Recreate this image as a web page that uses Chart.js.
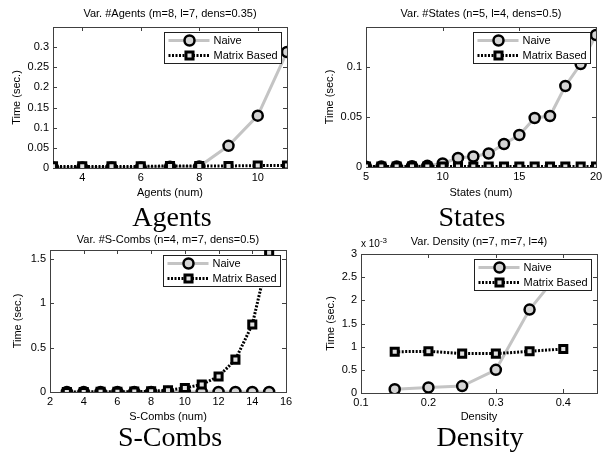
<!DOCTYPE html>
<html>
<head>
<meta charset="utf-8">
<script src="https://cdn.jsdelivr.net/npm/chart.js@4.4.0/dist/chart.umd.min.js"></script>
<style>
body { margin: 0; background: #fff; }
#pagina { position: relative; width: 606px; height: 455px; overflow: hidden; }
.painel { position: absolute; }
.legenda_fig { position: absolute; width: 200px; text-align: center; font-family: 'Liberation Serif', serif; font-size: 28px; line-height: 28px; color: #000; }
.expoente { position: absolute; font-family: 'Liberation Sans', Arial, sans-serif; font-size: 10px; line-height: 10px; color: #000; white-space: nowrap; }
.expoente sup { font-size: 8px; position: relative; top: -4px; vertical-align: baseline; }
</style>
</head>
<body>
<div id="pagina">
  <canvas class="painel" id="grafico_agents" width="303" height="205" style="left:0;top:0"></canvas>
  <canvas class="painel" id="grafico_states" width="303" height="205" style="left:303px;top:0"></canvas>
  <canvas class="painel" id="grafico_scombs" width="303" height="200" style="left:0;top:228px"></canvas>
  <canvas class="painel" id="grafico_density" width="303" height="200" style="left:303px;top:228px"></canvas>
  <div class="legenda_fig" style="left:72px;top:203px">Agents</div>
  <div class="legenda_fig" style="left:372px;top:203px">States</div>
  <div class="legenda_fig" style="left:70px;top:423px">S-Combs</div>
  <div class="legenda_fig" style="left:380px;top:423px">Density</div>
  <div class="expoente" style="left:361px;top:239px">x 10<sup>-3</sup></div>
</div>
<script>
Chart.defaults.font.family = "'Liberation Sans', Arial, sans-serif";
Chart.defaults.font.size = 11;
Chart.defaults.color = '#000';
Chart.defaults.animation = false;

/* DADOS */

const agents_x = [3, 4, 5, 6, 7, 8, 9, 10, 11];
const agents_naive = [0.001, 0.001, 0.001, 0.001, 0.003, 0.004, 0.055, 0.13, 0.288];
const agents_matrix = [0.004, 0.004, 0.004, 0.004, 0.005, 0.005, 0.005, 0.006, 0.006];
const agents_ticks_x = [4, 6, 8, 10];
const agents_ticks_y = [0, 0.05, 0.1, 0.15, 0.2, 0.25, 0.3];

const states_x = [5, 6, 7, 8, 9, 10, 11, 12, 13, 14, 15, 16, 17, 18, 19, 20];
const states_naive = [0.0003, 0.0004, 0.0005, 0.0008, 0.0012, 0.0035, 0.009, 0.0105, 0.0135, 0.023, 0.032, 0.049, 0.051, 0.081, 0.103, 0.132];
const states_matrix = [0.0004, 0.0004, 0.0004, 0.0004, 0.0004, 0.0004, 0.0004, 0.0004, 0.0004, 0.0004, 0.0004, 0.0004, 0.0004, 0.0004, 0.0004, 0.0004];
const states_ticks_x = [5, 10, 15, 20];
const states_ticks_y = [0, 0.05, 0.1];

const scombs_x = [3, 4, 5, 6, 7, 8, 9, 10, 11, 12, 13, 14, 15];
const scombs_naive = [0.001, 0.001, 0.001, 0.001, 0.001, 0.001, 0.001, 0.001, 0.001, 0.001, 0.001, 0.001, 0.001];
const scombs_matrix = [0.001, 0.001, 0.002, 0.003, 0.004, 0.008, 0.02, 0.045, 0.085, 0.175, 0.365, 0.76, 1.57];
const scombs_ticks_x = [2, 4, 6, 8, 10, 12, 14, 16];
const scombs_ticks_y = [0, 0.5, 1, 1.5];

// density em unidades de 10^-3 seg
const density_x = [0.15, 0.2, 0.25, 0.3, 0.35, 0.4];
const density_naive = [0.08, 0.12, 0.15, 0.5, 1.8, 2.7];
const density_matrix = [0.89, 0.9, 0.85, 0.85, 0.9, 0.95];
const density_ticks_x = [0.1, 0.2, 0.3, 0.4];
const density_ticks_y = [0, 0.5, 1, 1.5, 2, 2.5, 3];

/* ESTILO DAS SERIES */

const estilo_naive = {
    label: 'Naive',
    borderColor: '#c4c4c4',
    borderWidth: 3,
    pointStyle: 'circle',
    pointRadius: 5,
    pointBorderWidth: 2.5,
    pointBorderColor: '#000',
    pointBackgroundColor: '#d4d4d4',
    order: 2
};

const estilo_matrix = {
    label: 'Matrix Based',
    borderColor: '#000',
    borderWidth: 3,
    borderDash: [2, 1.5],
    pointStyle: 'rect',
    pointRadius: 5,
    pointBorderWidth: 3,
    pointBorderColor: '#000',
    pointBackgroundColor: '#e0e0e0',
    order: 1
};

function pares(xs, ys) {
    return xs.map((x, i) => ({ x: x, y: ys[i] }));
}

/* PLUGINS: caixa com ticks para dentro e legenda dentro do grafico */

const caixa = {
    id: 'caixa',
    beforeDatasetsDraw(chart) {
        const { ctx, chartArea: a, scales: { x, y } } = chart;
        ctx.save();
        ctx.strokeStyle = '#404040';
        ctx.lineWidth = 1;
        ctx.beginPath();
        x.ticks.forEach(t => {
            const px = Math.round(x.getPixelForValue(t.value)) + 0.5;
            ctx.moveTo(px, a.bottom); ctx.lineTo(px, a.bottom - 4);
            ctx.moveTo(px, a.top); ctx.lineTo(px, a.top + 4);
        });
        y.ticks.forEach(t => {
            const py = Math.round(y.getPixelForValue(t.value)) + 0.5;
            ctx.moveTo(a.left, py); ctx.lineTo(a.left + 4, py);
            ctx.moveTo(a.right, py); ctx.lineTo(a.right - 4, py);
        });
        ctx.stroke();
        ctx.strokeRect(Math.round(a.left) + 0.5, Math.round(a.top) + 0.5, Math.round(a.width), Math.round(a.height));
        ctx.restore();
    }
};

function marcador(ctx, ds, cx, cy) {
    ctx.fillStyle = ds.pointBackgroundColor;
    ctx.strokeStyle = ds.pointBorderColor;
    ctx.lineWidth = ds.pointBorderWidth;
    ctx.setLineDash([]);
    ctx.beginPath();
    if (ds.pointStyle === 'rect') {
        const s = ds.pointRadius * Math.SQRT1_2;
        ctx.rect(cx - s, cy - s, 2 * s, 2 * s);
    } else {
        ctx.arc(cx, cy, ds.pointRadius, 0, Math.PI * 2);
    }
    ctx.fill();
    ctx.stroke();
}

const legenda_interna = {
    id: 'legenda_interna',
    afterDraw(chart) {
        const { ctx, chartArea: a } = chart;
        const largura = 117, altura = 31;
        const x0 = Math.round(a.right - 6 - largura) + 0.5;
        const y0 = Math.round(a.top + 5) + 0.5;
        ctx.save();
        ctx.fillStyle = '#fff';
        ctx.fillRect(x0, y0, largura, altura);
        ctx.strokeStyle = '#202020';
        ctx.lineWidth = 1;
        ctx.strokeRect(x0, y0, largura, altura);
        const series = [estilo_naive, estilo_matrix];
        series.forEach((ds, i) => {
            const yc = y0 + 8 + i * 15;
            ctx.strokeStyle = ds.borderColor;
            ctx.lineWidth = ds.borderWidth;
            ctx.setLineDash(ds.borderDash || []);
            ctx.beginPath();
            ctx.moveTo(x0 + 4, yc);
            ctx.lineTo(x0 + 45, yc);
            ctx.stroke();
            marcador(ctx, ds, x0 + 25, yc);
            ctx.fillStyle = '#000';
            ctx.font = "11px 'Liberation Sans', Arial, sans-serif";
            ctx.textBaseline = 'middle';
            ctx.fillText(ds.label, x0 + 49, yc);
        });
        ctx.restore();
    }
};

/* MONTAGEM DE CADA GRAFICO */

function montar_grafico(id, p) {
    const config = {
        type: 'line',
        data: {
            datasets: [
                Object.assign({}, estilo_naive, { data: pares(p.xs, p.naive) }),
                Object.assign({}, estilo_matrix, { data: pares(p.xs, p.matrix) })
            ]
        },
        options: {
            responsive: false,
            layout: { padding: { left: 0, top: 0, right: p.direita, bottom: 0 } },
            elements: { line: { tension: 0 } },
            scales: {
                x: {
                    type: 'linear',
                    min: p.xmin,
                    max: p.xmax,
                    grid: { display: false, drawTicks: false },
                    border: { display: false },
                    afterBuildTicks: s => { s.ticks = p.ticks_x.map(v => ({ value: v })); },
                    afterFit: s => { s.height = p.baixo; },
                    ticks: { padding: 3, maxRotation: 0, callback: v => String(v) },
                    title: { display: true, text: p.titulo_x, padding: { top: 0, bottom: p.pad_titulo_x } }
                },
                y: {
                    min: 0,
                    max: p.ymax,
                    grid: { display: false, drawTicks: false },
                    border: { display: false },
                    afterBuildTicks: s => { s.ticks = p.ticks_y.map(v => ({ value: v })); },
                    afterFit: s => { s.width = p.esquerda; },
                    ticks: { padding: 4, callback: v => String(v) },
                    title: { display: true, text: 'Time (sec.)', padding: { top: p.pad_titulo_y, bottom: 0 } }
                }
            },
            plugins: {
                legend: { display: false },
                tooltip: { enabled: false },
                title: {
                    display: true,
                    fullSize: false,
                    text: p.titulo,
                    color: '#000',
                    font: { size: 11, weight: 'normal' },
                    padding: { top: p.pad_titulo[0], bottom: p.pad_titulo[1] }
                }
            }
        },
        plugins: [caixa, legenda_interna]
    };
    return new Chart(document.getElementById(id), config);
}

const grafico_agents = montar_grafico('grafico_agents', {
    xs: agents_x, naive: agents_naive, matrix: agents_matrix,
    ticks_x: agents_ticks_x, ticks_y: agents_ticks_y,
    xmin: 3, xmax: 11, ymax: 0.35,
    titulo: 'Var. #Agents (m=8, l=7, dens=0.35)', titulo_x: 'Agents (num)',
    esquerda: 53, direita: 16, baixo: 37,
    pad_titulo: [7.4, 6.4], pad_titulo_y: 10.4, pad_titulo_x: 5.4
});

const grafico_states = montar_grafico('grafico_states', {
    xs: states_x, naive: states_naive, matrix: states_matrix,
    ticks_x: states_ticks_x, ticks_y: states_ticks_y,
    xmin: 5, xmax: 20, ymax: 0.14,
    titulo: 'Var. #States (n=5, l=4, dens=0.5)', titulo_x: 'States (num)',
    esquerda: 63, direita: 10, baixo: 38,
    pad_titulo: [7.4, 6.4], pad_titulo_y: 20.4, pad_titulo_x: 5.4
});

const grafico_scombs = montar_grafico('grafico_scombs', {
    xs: scombs_x, naive: scombs_naive, matrix: scombs_matrix,
    ticks_x: scombs_ticks_x, ticks_y: scombs_ticks_y,
    xmin: 2, xmax: 16, ymax: 1.6,
    titulo: 'Var. #S-Combs (n=4, m=7, dens=0.5)', titulo_x: 'S-Combs (num)',
    esquerda: 50, direita: 17, baixo: 36,
    pad_titulo: [5.4, 3.4], pad_titulo_y: 11.4, pad_titulo_x: 4.4
});

const grafico_density = montar_grafico('grafico_density', {
    xs: density_x, naive: density_naive, matrix: density_matrix,
    ticks_x: density_ticks_x, ticks_y: density_ticks_y,
    xmin: 0.1, xmax: 0.45, ymax: 3,
    titulo: 'Var. Density (n=7, m=7, l=4)', titulo_x: 'Density',
    esquerda: 58, direita: 9, baixo: 35,
    pad_titulo: [7.4, 5.4], pad_titulo_y: 21.4, pad_titulo_x: 4.4
});
</script>
</body>
</html>
